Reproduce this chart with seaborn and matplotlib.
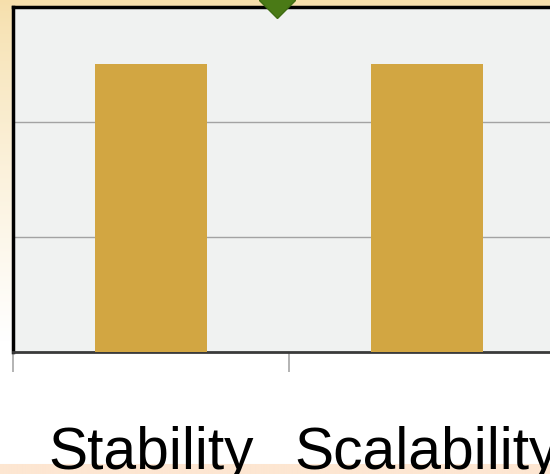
import numpy as np
import pandas as pd
import matplotlib
matplotlib.use("Agg")
import matplotlib.pyplot as plt
import matplotlib.colors as mcolors
import seaborn as sns

# Data
categories = ["Stability", "Scalability"]
scores = [2.5, 2.5]
marker_x = [0.458]
marker_y = [3.06]
grid_levels = [1, 2]

sns.set_theme(style="white")
plt.rcParams["font.family"] = ["Liberation Sans", "DejaVu Sans"]

W, H = 550, 474
fig = plt.figure(figsize=(W / 100, H / 100), dpi=100)
fig.patch.set_facecolor("white")

# Background: warm gradient fading down, with a peach band along the bottom
bg = fig.add_axes([0, 0, 1, 1], zorder=-5)
top_col = np.array(mcolors.to_rgb("#f6dfab"))
white = np.array([1.0, 1.0, 1.0])
band = np.array(mcolors.to_rgb("#fde6d2"))
rows = np.linspace(0, 1, H)
grad = np.zeros((H, 2, 3))
for i, r in enumerate(rows):
    t = min(r / 0.72, 1.0) ** 0.8
    c = top_col * (1 - t) + white * t
    if i >= H - 10:
        c = band
    grad[i, :, :] = c
bg.imshow(grad, aspect="auto", extent=[0, 1, 0, 1], origin="upper")
bg.set_axis_off()

# Main plot area (extends past the right edge of the canvas)
ax_l, ax_r, ax_t, ax_b = 13, 565, 7, 352
ax = fig.add_axes([ax_l / W, (H - ax_b) / H, (ax_r - ax_l) / W, (ax_b - ax_t) / H], zorder=1)
ax.set_facecolor("#f0f2f1")

df = pd.DataFrame({"category": categories, "score": scores})
sns.barplot(data=df, x="category", y="score", color="#d2a642", saturation=1,
            width=0.405, linewidth=0, edgecolor="none", ax=ax, zorder=3)

ax.set_xlim(-0.5, 1.5)
ax.set_ylim(0, 3)
for g in grid_levels:
    ax.axhline(g, color="#a3a3a3", lw=1.0, zorder=1)

ax.set_yticks([])
ax.set_xlabel("")
ax.set_ylabel("")
ax.set_xticks(range(len(categories)))
ax.set_xticklabels(categories, fontsize=42.3, color="black")
ax.set_xticks([-0.5, 0.5, 1.5], minor=True)
ax.tick_params(axis="x", which="major", length=0, pad=53)
ax.tick_params(axis="x", which="minor", bottom=True, length=14.5, width=1.4,
               color="#b3b3b3", direction="out")

ax.spines["left"].set_color("black")
ax.spines["left"].set_linewidth(2.5)
ax.spines["top"].set_color("black")
ax.spines["top"].set_linewidth(2.5)
ax.spines["bottom"].set_color("#3a3a3a")
ax.spines["bottom"].set_linewidth(2.0)
ax.spines["right"].set_visible(False)

# Indicator marker sitting on the top edge
ax.plot(marker_x, marker_y, marker="D", markersize=18.4, color="#4a7a16",
        markeredgecolor="#3f6c12", linestyle="none", clip_on=False, zorder=6)

fig.savefig("out.png", dpi=100)
